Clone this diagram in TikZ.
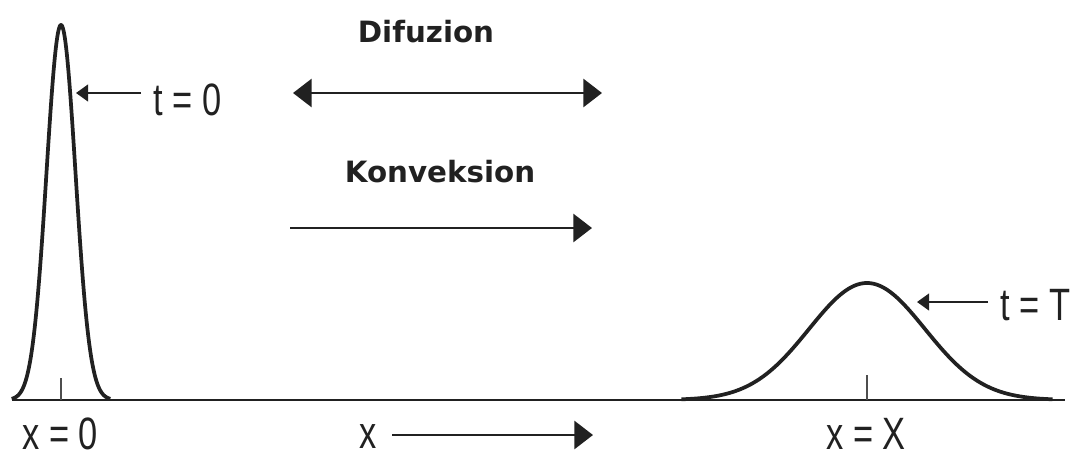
\documentclass[tikz,border=0pt]{standalone}
\usepackage{fontspec}
\setmainfont{Liberation Sans}
\newfontfamily\labfont[FakeStretch=0.76]{Liberation Sans}
\newfontfamily\titfont{DejaVu Sans}
\usetikzlibrary{arrows.meta}
\definecolor{ink}{gray}{0.13}
\begin{document}
\begin{tikzpicture}[x=0.75pt,y=-0.75pt,
  curve/.style={ink, line width=2.8pt, line join=round},
  axisline/.style={ink, line width=2pt},
  tickline/.style={ink!80, line width=1pt},
  bigarrow/.style={ink, line width=2.2pt, -{Triangle[length=14pt,width=21pt]}},
  bigdouble/.style={ink, line width=2.2pt, {Triangle[length=14pt,width=21pt]}-{Triangle[length=14pt,width=21pt]}},
  smallarrow/.style={ink, line width=1.5pt, -{Triangle[length=9pt,width=12.5pt]}},
  lab/.style={inner sep=0pt, anchor=base west, text=ink, font=\labfont\fontsize{34}{40}\selectfont},
  tit/.style={inner sep=0pt, anchor=base, text=ink, font=\titfont\bfseries\fontsize{22}{26}\selectfont}
]
\useasboundingbox (0,0) rectangle (1070,457);
% axis
\coordinate (axL) at (12,400);
\coordinate (axR) at (1065,400);
\draw[axisline] (axL) -- (axR);
% curves
\draw[curve] plot[domain=-3.4:3.4, samples=140, smooth] ({61+14.5*\x},{400-375*exp(-\x*\x/2)});
\draw[curve] plot[domain=-3.2:3.2, samples=140, smooth] ({867+58*\x},{400-117*exp(-\x*\x/2)});
% ticks
\coordinate (tk1a) at (61,378); \coordinate (tk1b) at (61,400);
\coordinate (tk2a) at (867,375); \coordinate (tk2b) at (867,400);
\draw[tickline] (tk1a) -- (tk1b);
\draw[tickline] (tk2a) -- (tk2b);
% labels
\node[lab] (t0) at (153,115) {t = 0};
\node[lab] (tT) at (1000,320) {t = T};
\node[lab] (x0) at (22,449) {x = 0};
\node[lab] (xX) at (826,449) {x = X};
\node[lab] (xx) at (359,448) {x};
\node[tit] (dif) at (426,42) {Difuzion};
\node[tit] (kon) at (440,182) {Konveksion};
% label arrows
\coordinate (a0s) at (141,93); \coordinate (a0e) at (76,93);
\draw[smallarrow] (a0s) -- (a0e);
\coordinate (aTs) at (988,302); \coordinate (aTe) at (917,302);
\draw[smallarrow] (aTs) -- (aTe);
% process arrows
\coordinate (d1) at (293,93); \coordinate (d2) at (602,93);
\draw[bigdouble] (d1) -- (d2);
\coordinate (k1) at (290,228); \coordinate (k2) at (592,228);
\draw[bigarrow] (k1) -- (k2);
\coordinate (x1) at (392,435); \coordinate (x2) at (593,435);
\draw[bigarrow] (x1) -- (x2);
\end{tikzpicture}
\end{document}
